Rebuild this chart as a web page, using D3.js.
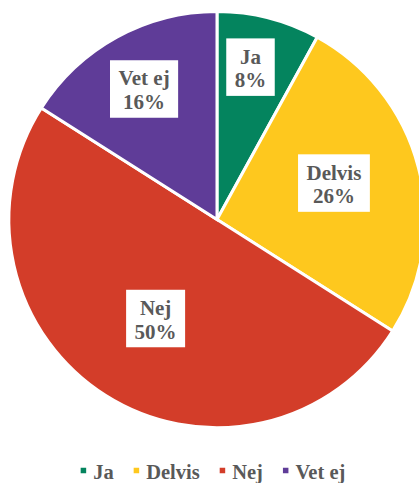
<!DOCTYPE html>
<html>
<head>
<meta charset="utf-8">
<script src="https://cdn.jsdelivr.net/npm/d3@7/dist/d3.min.js"></script>
<style>
  html, body { margin: 0; padding: 0; background: #fff; overflow: hidden; }
  svg { display: block; }
</style>
</head>
<body>
<svg id="chart" width="419" height="483"></svg>
<script>
// Survey answers (percent)
const categories = ["Ja", "Delvis", "Nej", "Vet ej"];
const values = [8, 26, 50, 16];
const colors = ["#04845E", "#FEC81E", "#D33D29", "#5F3C98"];

const FONT = "Liberation Serif";
const TEXT_COLOR = "#595959";

const cx = 217, cy = 219.5, R = 208;
// label placement per slice: distance from the centre and a small turn (degrees)
const labelDist = [156, 122.5, 116.5, 149.5];
const labelTurn = [-2, -2.9, -0.6, -0.4];

const svg = d3.select("#chart");
const g = svg.append("g").attr("transform", `translate(${cx},${cy})`);

const pie = d3.pie().sort(null).value(d => d.v);
const arcs = pie(categories.map((c, i) => ({ c, v: values[i], i })));
const arc = d3.arc().innerRadius(0).outerRadius(R);

g.selectAll("path.slice")
  .data(arcs)
  .enter().append("path")
  .attr("class", "slice")
  .attr("d", arc)
  .attr("fill", d => colors[d.data.i])
  .attr("stroke", "#fff")
  .attr("stroke-width", 3)
  .attr("stroke-linejoin", "miter");

function styleText(sel, size) {
  return sel.style("font-family", FONT).style("font-weight", "bold")
    .style("font-size", size + "px").style("fill", TEXT_COLOR);
}

// data labels: white box, name on first line, percent on second
const fs = 21, lh = 23.5;
const labels = g.selectAll("g.lbl")
  .data(arcs)
  .enter().append("g")
  .attr("class", "lbl")
  .attr("transform", d => {
    const a = (d.startAngle + d.endAngle) / 2 + labelTurn[d.data.i] * Math.PI / 180;
    const r = labelDist[d.data.i];
    return `translate(${r * Math.sin(a)},${-r * Math.cos(a)})`;
  });

labels.each(function(d) {
  const sel = d3.select(this);
  const rect = sel.append("rect").attr("fill", "#fff");
  const t1 = styleText(sel.append("text"), fs).attr("text-anchor", "middle")
    .attr("y", -3.5).text(d.data.c);
  const t2 = styleText(sel.append("text"), fs).attr("text-anchor", "middle")
    .attr("y", -3.5 + lh).text(d.data.v + "%");
  const w = Math.max(t1.node().getComputedTextLength(), t2.node().getComputedTextLength()) + 17;
  const h = 57.5;
  rect.attr("x", -w / 2).attr("y", -h / 2).attr("width", w).attr("height", h);
});

// legend along the bottom
const legend = svg.append("g").attr("class", "legend");
const lfs = 20.5, sq = 5.5, gapIn = 7, gapOut = 20, ly = 479;
let x = 0;
categories.forEach((c, i) => {
  const it = legend.append("g");
  it.append("rect").attr("width", sq).attr("height", sq).attr("fill", colors[i])
    .attr("y", ly - 8 - sq / 2 - 0.5);
  const t = styleText(it.append("text"), lfs).attr("x", sq + gapIn).attr("y", ly).text(c);
  const w = sq + gapIn + t.node().getComputedTextLength();
  it.attr("transform", `translate(${x},0)`);
  x += w + gapOut;
});
const total = x - gapOut;
legend.attr("transform", `translate(${213 - total / 2},0)`);
</script>
</body>
</html>
